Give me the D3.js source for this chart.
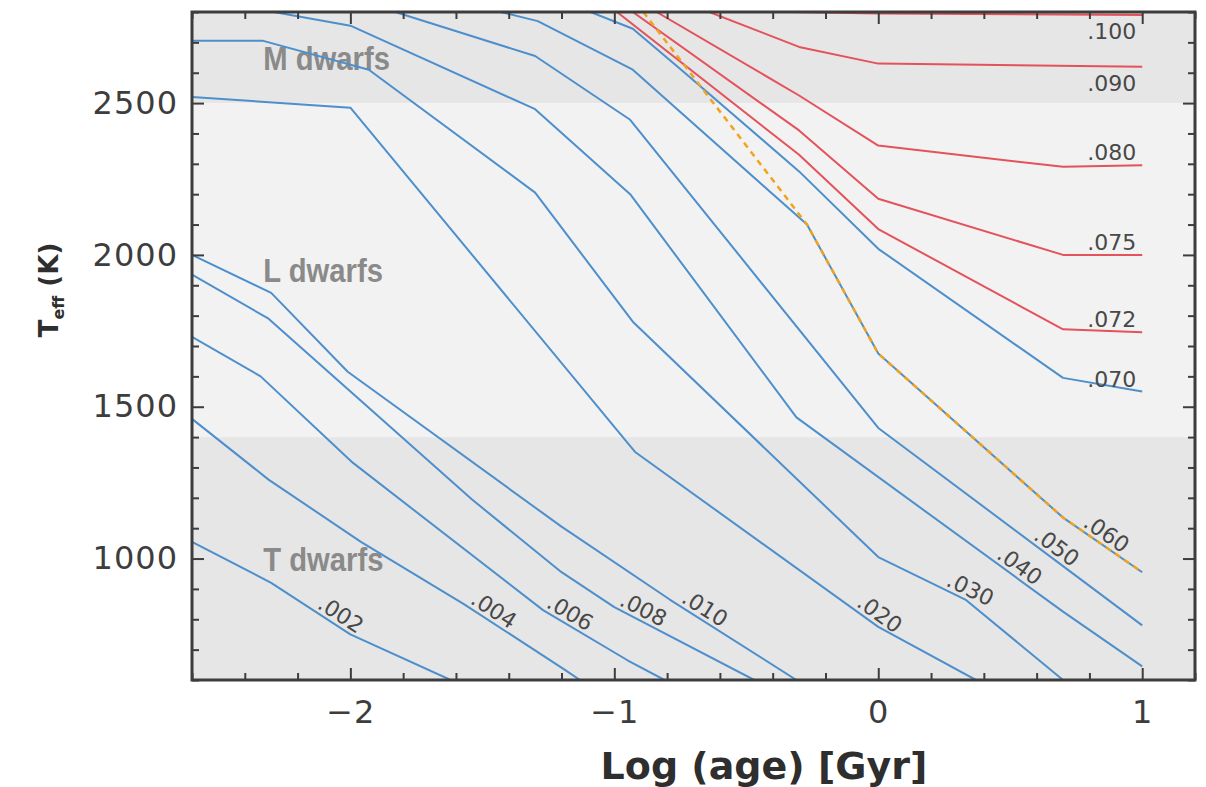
<!DOCTYPE html>
<html>
<head>
<meta charset="utf-8">
<script src="https://cdn.jsdelivr.net/npm/d3@7"></script>
<style>
  body { margin: 0; background: #fff; }
  svg { display: block; }
</style>
</head>
<body>
<svg id="chart" width="1206" height="787"></svg>
<script>
// track masses (solar masses)
const massLabels = ['.002', '.004', '.006', '.008', '.010', '.020', '.030', '.040',
                    '.050', '.060', '.070', '.072', '.075', '.080', '.090', '.100'];

// log(age / Gyr) of each track point
const trackAge = [
  [-2.6, -2.3, -2.0, -1.62],
  [-2.6, -2.31, -1.96, -1.57, -1.19, -1.13],
  [-2.6, -2.34, -1.99, -1.27, -0.95, -0.81],
  [-2.6, -2.31, -1.54, -1.2, -1.0, -0.47],
  [-2.6, -2.3, -2.01, -1.2, -0.79, -0.31],
  [-2.6, -2.0, -0.92, 0, 0.37],
  [-2.6, -2.33, -1.93, -1.3, -0.93, 0, 0.33, 0.7],
  [-2.29, -2.0, -1.3, -0.94, -0.31, 0.7, 1.0],
  [-1.83, -1.3, -0.94, 0, 0.7, 1.0],
  [-1.43, -1.29, -0.93, -0.27, 0, 0.7, 1.0],
  [-1.09, -0.93, -0.74, -0.3, 0, 0.7, 1.0],
  [-0.99, -0.3, 0, 0.7, 1.0],
  [-0.93, -0.3, 0, 0.7, 1.0],
  [-0.84, -0.3, 0, 0.7, 1.0],
  [-0.64, -0.3, 0, 1.0],
  [-0.33, 0, 1.0]
];

// effective temperature (K) of each track point
const trackTeff = [
  [1055, 920, 750, 600],
  [1460, 1260, 1055, 850, 635, 600],
  [1730, 1600, 1315, 830, 665, 600],
  [1935, 1790, 1195, 955, 840, 600],
  [2000, 1875, 1615, 1105, 865, 600],
  [2520, 2485, 1350, 775, 600],
  [2705, 2705, 2610, 2205, 1780, 1005, 865, 600],
  [2800, 2755, 2480, 2200, 1465, 825, 645],
  [2800, 2655, 2445, 1430, 975, 780],
  [2800, 2770, 2610, 2100, 1675, 1135, 955],
  [2800, 2745, 2605, 2275, 2020, 1595, 1550],
  [2800, 2330, 2085, 1755, 1745],
  [2800, 2410, 2185, 2000, 2000],
  [2800, 2525, 2360, 2290, 2295],
  [2800, 2685, 2630, 2620],
  [2800, 2795, 2790]
];

// dashed boundary line
const dashAge = [-0.89, -0.27, 0, 0.7, 1.0];
const dashTeff = [2800, 2100, 1675, 1135, 955];

// spectral classes
const classNames = ['M dwarfs', 'L dwarfs', 'T dwarfs'];
const classLow = [2500, 1400, 600];
const classHigh = [2800, 2500, 1400];
const classLabelTeff = [2610, 1910, 960];

// axis ticks
const xMajor = [-2, -1, 0, 1];
const yMajor = [1000, 1500, 2000, 2500];

// where each mass label sits (log age along track, or at track end)
const labelAge = [-2.06, -1.48, -1.19, -0.91, -0.68, -0.02, 0.33, 0.51, 0.65, 0.84,
                  null, null, null, null, null, null];
const labelBelow = [false, false, false, false, false, false, false, false, false, false,
                    false, false, false, false, true, true];

const svg = d3.select('#chart');
const plot = {left: 192, right: 1195, top: 12, bottom: 680};

const x = d3.scaleLinear().domain([-2.6, 1.2]).range([plot.left, plot.right]);
const y = d3.scaleLinear().domain([600, 2800]).range([plot.bottom, plot.top]);

const blue = '#4d8fcc';
const red = '#e4525b';
const orange = '#f2a31b';
const ink = '#3d3d3d';

svg.append('defs').append('clipPath').attr('id', 'plotClip')
  .append('rect')
    .attr('x', plot.left).attr('y', plot.top)
    .attr('width', plot.right - plot.left).attr('height', plot.bottom - plot.top);

// spectral class bands
svg.append('g')
  .selectAll('rect')
  .data(classNames)
  .join('rect')
    .attr('x', plot.left)
    .attr('y', (d, i) => y(classHigh[i]))
    .attr('width', plot.right - plot.left)
    .attr('height', (d, i) => y(classLow[i]) - y(classHigh[i]))
    .attr('fill', (d, i) => i === 1 ? '#f2f2f2' : '#e6e6e6');

// condensed look: squeeze the bold face horizontally
svg.append('g')
  .selectAll('text')
  .data(classNames)
  .join('text')
    .attr('transform', (d, i) => `translate(${x(-2.33)},${y(classLabelTeff[i])}) scale(0.86,1)`)
    .attr('fill', '#8a8a8a')
    .style('font-family', '"Liberation Sans", Arial, sans-serif')
    .style('font-weight', 'bold')
    .style('font-size', '34px')
    .text(d => d);

// tracks
const line = d3.line().x(d => x(d[0])).y(d => y(d[1]));
const tracks = massLabels.map((m, i) => trackAge[i].map((a, j) => [a, trackTeff[i][j]]));
const colorOf = m => parseFloat(m) >= 0.072 ? red : blue;

const lines = svg.append('g').attr('clip-path', 'url(#plotClip)');
lines.selectAll('path.track')
  .data(tracks)
  .join('path')
    .attr('class', 'track')
    .attr('d', line)
    .attr('fill', 'none')
    .attr('stroke', (d, i) => colorOf(massLabels[i]))
    .attr('stroke-width', 2)
    .attr('stroke-linejoin', 'round');

lines.append('path')
  .attr('d', line(dashAge.map((a, j) => [a, dashTeff[j]])))
  .attr('fill', 'none')
  .attr('stroke', orange)
  .attr('stroke-width', 2.5)
  .attr('stroke-dasharray', '6,5');

// mass labels
function pointAt(track, a) {
  for (let j = 0; j < track.length - 1; j++) {
    const p = track[j], q = track[j + 1];
    if (a >= p[0] && a <= q[0]) {
      const t = (a - p[0]) / (q[0] - p[0]);
      const px = x(a), py = y(p[1] + t * (q[1] - p[1]));
      const ang = Math.atan2(y(q[1]) - y(p[1]), x(q[0]) - x(p[0])) * 180 / Math.PI;
      return [px, py, ang];
    }
  }
  return null;
}

const labelG = svg.append('g')
  .style('font-family', '"DejaVu Sans", sans-serif')
  .style('font-size', '22px')
  .attr('fill', '#484848');

massLabels.forEach((m, i) => {
  const track = tracks[i];
  if (labelAge[i] !== null) {
    const [px, py, ang] = pointAt(track, labelAge[i]);
    labelG.append('text')
      .attr('transform', `translate(${px},${py}) rotate(${ang})`)
      .attr('text-anchor', 'middle')
      .attr('dy', -4)
      .text(m);
  } else {
    const last = track[track.length - 1];
    labelG.append('text')
      .attr('x', x(last[0]) - 6)
      .attr('y', y(last[1]) + (labelBelow[i] ? 24 : -5))
      .attr('text-anchor', 'end')
      .text(m);
  }
});

// axes with inward ticks on all four sides
const xMinor = d3.range(-2.6, 1.21, 0.2).map(v => +v.toFixed(1)).filter(v => !xMajor.includes(v));
const yMinor = d3.range(600, 2801, 100).filter(v => !yMajor.includes(v));

function drawAxis(axis, tx, ty) {
  const g = svg.append('g')
    .attr('transform', `translate(${tx},${ty})`)
    .call(axis);
  g.select('.domain').remove();
  g.selectAll('.tick line').attr('stroke', ink).attr('stroke-width', 2);
  return g;
}

const tickFont = g => g.selectAll('text')
  .attr('fill', ink)
  .style('font-family', '"DejaVu Sans", sans-serif')
  .style('font-size', '32px')
  .style('letter-spacing', '1px');

drawAxis(d3.axisBottom(x).tickValues(xMajor).tickSize(-12).tickPadding(20).tickFormat(d3.format('d')), 0, plot.bottom)
  .call(tickFont);
drawAxis(d3.axisBottom(x).tickValues(xMinor).tickSize(-7).tickFormat(''), 0, plot.bottom);
drawAxis(d3.axisTop(x).tickValues(xMajor).tickSize(-12).tickFormat(''), 0, plot.top);
drawAxis(d3.axisTop(x).tickValues(xMinor).tickSize(-7).tickFormat(''), 0, plot.top);

drawAxis(d3.axisLeft(y).tickValues(yMajor).tickSize(-12).tickPadding(14).tickFormat(d3.format('d')), plot.left, 0)
  .call(tickFont);
drawAxis(d3.axisLeft(y).tickValues(yMinor).tickSize(-7).tickFormat(''), plot.left, 0);
drawAxis(d3.axisRight(y).tickValues(yMajor).tickSize(-12).tickFormat(''), plot.right, 0);
drawAxis(d3.axisRight(y).tickValues(yMinor).tickSize(-7).tickFormat(''), plot.right, 0);

// frame
svg.append('rect')
  .attr('x', plot.left).attr('y', plot.top)
  .attr('width', plot.right - plot.left).attr('height', plot.bottom - plot.top)
  .attr('fill', 'none')
  .attr('stroke', ink)
  .attr('stroke-width', 3);

// axis titles
svg.append('text')
  .attr('x', 764)
  .attr('y', 779)
  .attr('text-anchor', 'middle')
  .attr('fill', '#2e2e2e')
  .style('font-family', '"DejaVu Sans", sans-serif')
  .style('font-weight', 'bold')
  .style('font-size', '38px')
  .text('Log (age) [Gyr]');

const yTitle = svg.append('text')
  .attr('transform', 'translate(58,290) rotate(-90)')
  .attr('text-anchor', 'middle')
  .attr('fill', '#2e2e2e')
  .style('font-family', '"DejaVu Sans", sans-serif')
  .style('font-weight', 'bold')
  .style('font-size', '26px');
yTitle.append('tspan').text('T');
yTitle.append('tspan').attr('dy', 6).style('font-size', '16px').text('eff');
yTitle.append('tspan').attr('dy', -6).text(' (K)');
</script>
</body>
</html>
